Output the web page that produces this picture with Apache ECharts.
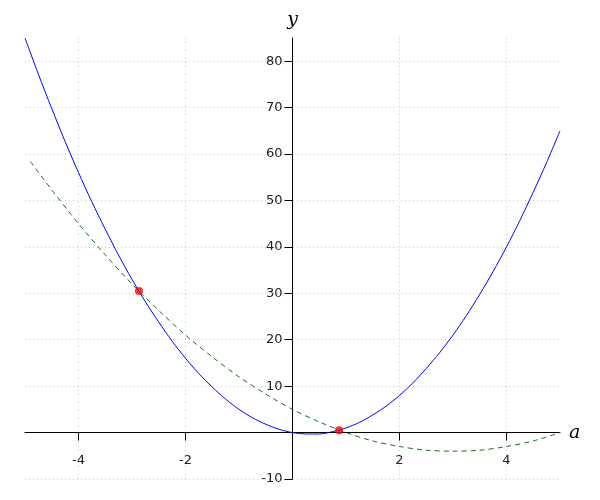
<!DOCTYPE html>
<html>
<head>
<meta charset="utf-8">
<script src="https://cdn.jsdelivr.net/npm/echarts@6/dist/echarts.min.js"></script>
<style>html,body{margin:0;padding:0;background:#fff}#c{width:600px;height:500px}</style>
</head>
<body>
<div id="c"></div>
<script>
var xTicks = [-4, -2, 2, 4];
var yTicks = [-10, 10, 20, 30, 40, 50, 60, 70, 80];

var blueA = [-5,-4.75,-4.5,-4.25,-4,-3.75,-3.5,-3.25,-3,-2.75,-2.5,-2.25,-2,-1.75,-1.5,-1.25,-1,-0.75,-0.5,-0.25,0,0.25,0.5,0.75,1,1.25,1.5,1.75,2,2.25,2.5,2.75,3,3.25,3.5,3.75,4,4.25,4.5,4.75,5];
var blueY = [85,77.2,69.8,62.7,56,49.7,43.8,38.2,33,28.2,23.8,19.7,16,12.7,9.8,7.2,5,3.2,1.8,0.7,0,-0.3,-0.3,0.2,1,2.2,3.8,5.7,8,10.7,13.8,17.2,21,25.2,29.8,34.7,40,45.7,51.8,58.2,65];

var greenA = [-4.9,-4.5,-4,-3.5,-3,-2.5,-2,-1.5,-1,-0.5,0,0.5,1,1.5,2,2.5,3,3.5,4,4.5,5];
var greenY = [58.4,52.3,45,38.3,32,26.3,21,16.3,12,8.3,5,2.3,0,-1.8,-3,-3.8,-4,-3.8,-3,-1.8,0];

var dotA = [-2.87, 0.87];
var dotY = [30.5, 0.5];

var X_MIN = -5, X_MAX = 5, Y_MIN = -10, Y_MAX = 85;

function zip(a, b) { return a.map(function (v, i) { return [v, b[i]]; }); }

var W = 600, H = 500;
var G = { left: 25, right: 40, top: 38, bottom: 21 };
var gw = W - G.left - G.right, gh = H - G.top - G.bottom;
// shift axes so they cross at the origin
var yOffset = -gw * (0 - X_MIN) / (X_MAX - X_MIN);
var xOffset = -gh * (0 - Y_MIN) / (Y_MAX - Y_MIN);

var chart = echarts.init(document.getElementById('c'), null, { renderer: 'canvas' });
var labelStyle = { color: '#222', fontSize: 13, fontFamily: 'DejaVu Sans' };
var gridLine = { show: true, lineStyle: { color: '#c8c8c8', type: [1, 3], width: 1 } };
chart.setOption({
  animation: false,
  grid: { left: G.left, right: G.right, top: G.top, bottom: G.bottom, containLabel: false, outerBoundsMode: 'none' },
  xAxis: {
    type: 'value', min: X_MIN, max: X_MAX, position: 'bottom', offset: xOffset,
    name: 'a', nameLocation: 'end', nameGap: 9,
    nameTextStyle: { color: '#000', fontSize: 19, fontStyle: 'italic', fontFamily: 'DejaVu Serif', padding: [9, 0, 0, 0] },
    axisLine: { onZero: false, lineStyle: { color: '#000', width: 1 } },
    axisTick: { show: true, length: 8, customValues: xTicks, lineStyle: { color: '#000' } },
    axisLabel: { customValues: xTicks, margin: 22, ...labelStyle },
    splitLine: gridLine
  },
  yAxis: {
    type: 'value', min: Y_MIN, max: Y_MAX, position: 'left', offset: yOffset,
    name: 'y', nameLocation: 'end', nameGap: 8,
    nameTextStyle: { color: '#000', fontSize: 19, fontStyle: 'italic', fontFamily: 'DejaVu Serif' },
    axisLine: { onZero: false, lineStyle: { color: '#000', width: 1 } },
    axisTick: { show: true, length: 8, customValues: yTicks, lineStyle: { color: '#000' } },
    axisLabel: { customValues: yTicks, margin: 10, ...labelStyle },
    splitLine: gridLine
  },
  series: [
    { type: 'line', data: zip(blueA, blueY), smooth: 0.3, showSymbol: false, lineStyle: { color: '#0000ff', width: 1 }, z: 3 },
    { type: 'line', data: zip(greenA, greenY), smooth: 0.3, showSymbol: false, lineStyle: { color: '#1a6e1a', width: 1, type: [5, 4] }, z: 2 },
    { type: 'scatter', data: zip(dotA, dotY), symbolSize: 8, itemStyle: { color: '#ff0000' }, z: 5 }
  ]
});
</script>
</body>
</html>
